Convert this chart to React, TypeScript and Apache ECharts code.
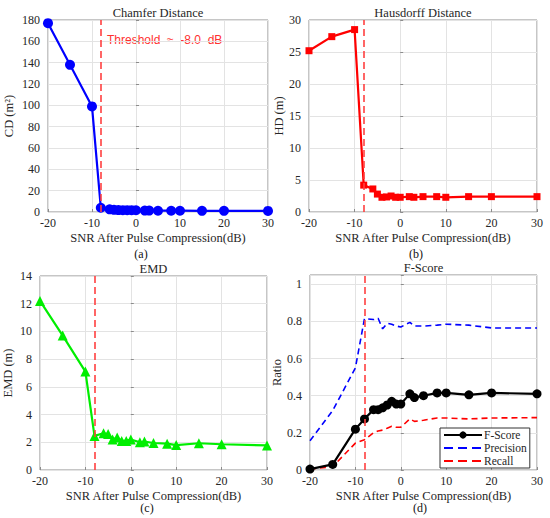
import React, { useEffect, useRef } from "react";
import * as echarts from "echarts";

const snrValues = [-20, -15, -10, -8, -6, -5, -4, -3, -2, -1, 0, 2, 3, 5, 8, 10, 15, 20, 30];
const cdValues = [177, 138, 99, 4, 2.5, 2, 1.8, 1.7, 1.7, 1.7, 1.6, 1.3, 1.3, 1.2, 1.2, 1.2, 1.1, 1.1, 1.0];
const hdValues = [25.2, 27.4, 28.5, 4.2, 3.6, 2.8, 2.3, 2.35, 2.5, 2.3, 2.3, 2.4, 2.3, 2.4, 2.4, 2.3, 2.4, 2.4, 2.4];
const emdValues = [12.2, 9.7, 7.1, 2.46, 2.65, 2.6, 2.2, 2.35, 2.1, 2.1, 2.2, 2.0, 2.05, 1.95, 1.9, 1.8, 1.93, 1.86, 1.77];
const fscoreValues = [0.005, 0.03, 0.22, 0.275, 0.325, 0.325, 0.335, 0.35, 0.37, 0.355, 0.355, 0.41, 0.39, 0.4, 0.415, 0.415, 0.405, 0.415, 0.41];
const precisionValues = [0.157, 0.32, 0.55, 0.815, 0.81, 0.817, 0.76, 0.79, 0.785, 0.775, 0.77, 0.795, 0.775, 0.775, 0.78, 0.785, 0.78, 0.765, 0.765];
const recallValues = [0.005, 0.018, 0.145, 0.163, 0.2, 0.21, 0.215, 0.225, 0.235, 0.23, 0.23, 0.275, 0.262, 0.268, 0.28, 0.28, 0.275, 0.28, 0.282];
const thresholdDb = -8;

const titles = ["Chamfer Distance", "Hausdorff Distance", "EMD", "F-Score"];
const panelLabels = ["(a)", "(b)", "(c)", "(d)"];
const yNames = ["CD (m²)", "HD (m)", "EMD (m)", "Ratio"];
const xName = "SNR After Pulse Compression(dB)";
const thresholdText = "Threshold \u00a0≈\u00a0 -8.0 \u00a0dB";
const legendNames = ["F-Score", "Precision", "Recall"];

const SERIF = "Liberation Serif";
const TXT = "#262626";

const pairs = (ys: number[]) => snrValues.map((x, i) => [x, ys[i]]);

export default function App() {
  const ref = useRef<HTMLDivElement>(null);
  useEffect(() => {
    if (!ref.current) return;
    const chart = echarts.init(ref.current, null, { renderer: "svg" });

    const grids = [
      { left: 48, top: 20, width: 220, height: 192 },
      { left: 309, top: 20, width: 228, height: 192 },
      { left: 40, top: 276, width: 227, height: 194 },
      { left: 310, top: 275, width: 227, height: 195 },
    ];
    const yCfg = [
      { min: 0, max: 180, interval: 20, gap: 33 },
      { min: 0, max: 30, interval: 5, gap: 23 },
      { min: 0, max: 14, interval: 2, gap: 26 },
      { min: 0, max: 1.05, interval: 0.2, gap: 25 },
    ];

    const markLine = {
      silent: true,
      symbol: ["none", "none"],
      label: { show: false },
      lineStyle: { color: "#ff4040", type: [7, 4], width: 1.6 },
      data: [{ xAxis: thresholdDb }],
    };

    const option: any = {
      animation: false,
      backgroundColor: "#fff",
      title: [
        ...titles.map((t, i) => ({
          text: t,
          left: grids[i].left + grids[i].width / 2,
          top: grids[i].top - 14,
          textAlign: "center",
          padding: 0,
          textStyle: { fontFamily: SERIF, fontSize: 12.5, fontWeight: "normal", color: TXT },
        })),
        ...panelLabels.map((t, i) => ({
          text: t,
          left: [141, 416, 147, 420][i],
          top: [248, 248, 502, 502][i],
          textAlign: "center",
          padding: 0,
          textStyle: { fontFamily: SERIF, fontSize: 12, fontWeight: "normal", color: "#111" },
        })),
      ],
      grid: grids.map((g) => ({ ...g, show: true, borderColor: "#8c8c8c", borderWidth: 1, containLabel: false })),
      xAxis: grids.map((_, i) => ({
        type: "value",
        gridIndex: i,
        min: -20,
        max: 30,
        interval: 10,
        name: xName,
        nameLocation: "middle",
        nameGap: 19,
        nameTextStyle: { fontFamily: SERIF, fontSize: 12.5, color: TXT },
        axisLine: { show: false },
        axisTick: { show: true, inside: true, length: 3, lineStyle: { color: "#8c8c8c" } },
        axisLabel: { fontFamily: SERIF, fontSize: 12, color: TXT, margin: 5, lineHeight: 12 },
        splitLine: { show: true, lineStyle: { color: "#e3e3e3", width: 1 } },
      })),
      yAxis: grids.map((_, i) => ({
        type: "value",
        gridIndex: i,
        min: yCfg[i].min,
        max: yCfg[i].max,
        interval: yCfg[i].interval,
        name: yNames[i],
        nameLocation: "middle",
        nameGap: yCfg[i].gap,
        nameTextStyle: { fontFamily: SERIF, fontSize: 12.5, color: TXT },
        axisLine: { show: false },
        axisTick: { show: true, inside: true, length: 3, lineStyle: { color: "#8c8c8c" } },
        axisLabel: {
          fontFamily: SERIF,
          fontSize: 12,
          lineHeight: 10,
          color: TXT,
          margin: 8,
          formatter: (v: number) => (i === 3 && v > 1.01 ? "" : String(Math.round(v * 100) / 100)),
        },
        splitLine: { show: true, lineStyle: { color: "#e3e3e3", width: 1 } },
      })),
      legend: {
        data: legendNames.map((n, k) =>
          k === 0
            ? { name: n }
            : { name: n, itemStyle: { color: "rgba(0,0,0,0)", borderWidth: 0 }, lineStyle: { type: [9, 5], width: 2 } }
        ),
        orient: "vertical",
        left: 440,
        top: 428,
        backgroundColor: "#fff",
        borderColor: "#333",
        borderWidth: 1,
        borderRadius: 0,
        padding: [1, 3, 1, 3],
        itemGap: 1,
        itemWidth: 38,
        itemHeight: 9,
        textStyle: { fontFamily: SERIF, fontSize: 11.5, color: TXT, padding: [0, 0, 0, -3] },
      },
      graphic: [
        {
          type: "text",
          left: 107,
          top: 34,
          style: { text: thresholdText, fill: "#ff3030", font: "12px Liberation Sans" },
        },
      ],
      series: [
        {
          type: "line",
          name: "CD",
          xAxisIndex: 0,
          yAxisIndex: 0,
          data: pairs(cdValues),
          symbol: "circle",
          symbolSize: 10,
          itemStyle: { color: "#0000ff" },
          lineStyle: { color: "#0000ff", width: 2.2 },
          markLine,
        },
        {
          type: "line",
          name: "HD",
          xAxisIndex: 1,
          yAxisIndex: 1,
          data: pairs(hdValues),
          symbol: "rect",
          symbolSize: 7,
          itemStyle: { color: "#ff0000" },
          lineStyle: { color: "#ff0000", width: 2.2 },
          markLine,
        },
        {
          type: "line",
          name: "EMD",
          xAxisIndex: 2,
          yAxisIndex: 2,
          data: pairs(emdValues),
          symbol: "triangle",
          symbolSize: 10,
          itemStyle: { color: "#00ee00" },
          lineStyle: { color: "#00ee00", width: 2.2 },
          markLine,
        },
        {
          type: "line",
          name: "Precision",
          xAxisIndex: 3,
          yAxisIndex: 3,
          data: pairs(precisionValues),
          symbol: "none",
          showSymbol: false,
          itemStyle: { color: "#0000ff" },
          lineStyle: { color: "#0000ff", width: 1.6, type: [6, 4] },
        },
        {
          type: "line",
          name: "Recall",
          xAxisIndex: 3,
          yAxisIndex: 3,
          data: pairs(recallValues),
          symbol: "none",
          showSymbol: false,
          itemStyle: { color: "#ff0000" },
          lineStyle: { color: "#ff0000", width: 1.6, type: [6, 4] },
        },
        {
          type: "line",
          name: "F-Score",
          xAxisIndex: 3,
          yAxisIndex: 3,
          data: pairs(fscoreValues),
          symbol: "circle",
          symbolSize: 9,
          itemStyle: { color: "#000" },
          lineStyle: { color: "#000", width: 2.2 },
          markLine,
        },
      ],
    };
    chart.setOption(option);
    return () => chart.dispose();
  }, []);

  return (
    <div
      ref={ref}
      style={{ position: "absolute", left: 0, top: 0, width: 550, height: 518 }}
    />
  );
}
